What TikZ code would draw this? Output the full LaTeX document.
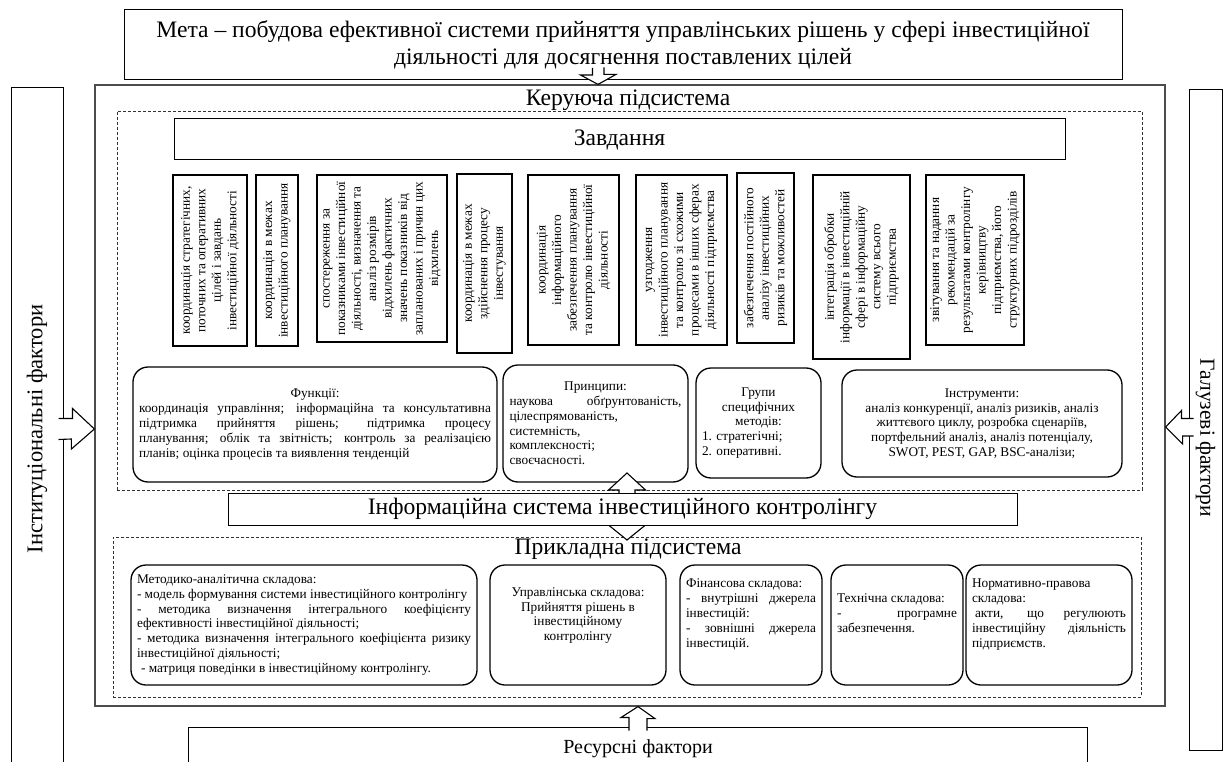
\documentclass[tikz,border=0pt]{standalone}
\usepackage{fontspec}
\setmainfont{Liberation Serif}
\usetikzlibrary{positioning,calc}
\tikzset{
	plain_box/.style = {draw=black, line width=1pt, fill=white, inner sep=2pt},
	title_txt/.style = {font=\fontsize{23.6}{27}\selectfont},
	zone/.style = {draw=black!80, line width=0.7pt, dash pattern=on 3pt off 2pt},
	task_box/.style = {plain_box, line width=1.3pt, rotate=90, align=center, inner sep=1pt, minimum width=170pt, font=\fontsize{13.3}{15.5}\selectfont},
	round_box/.style = {plain_box, line width=1.3pt, rounded corners=15pt, inner xsep=6pt, font=\fontsize{13.3}{14.8}\selectfont},
	factor_box/.style = {plain_box, font=\fontsize{22.5}{26}\selectfont},
	block_arr/.style = {draw=black, line width=1.1pt, fill=white, line join=miter}
}
\begin{document}
\begin{tikzpicture}[x=1pt, y=-1pt]
	\useasboundingbox (0,0) rectangle (1226,762);
	\node [plain_box, minimum width=998pt, minimum height=70pt, align=center, title_txt] (goal) at (623,45)
		{Мета – побудова ефективної системи прийняття управлінських рішень у сфері інвестиційної\\діяльності для досягнення поставлених цілей};
	\node [draw=black!70, line width=1.2pt, minimum width=1070pt, minimum height=621pt] (mainb) at (630,395.5) {};
	\node [title_txt] (ctrl) at (628,100) {Керуюча підсистема};
	\node [zone, minimum width=1025pt, minimum height=379pt] (ctrl_zone) at (629.5,300.5) {};
	\node [plain_box, minimum width=891pt, minimum height=41pt, title_txt] (tasks) at (619.5,139.5) {Завдання};
	% завдання
	\node [task_box, minimum height=74pt, minimum width=171pt] (t1) at (210,260.5) {координація стратегічних,\\поточних та оперативних\\цілей і завдань\\інвестиційної діяльності};
	\node [task_box, minimum height=42pt, minimum width=171pt] (t2) at (277,260.5) {координація в межах\\інвестиційного планування};
	\node [task_box, minimum height=130pt, minimum width=167pt] (t3) at (382,258.5) {спостереження за\\показниками інвестиційної\\діяльності, визначення та\\аналіз розмірів\\відхилень фактичних\\значень показників від\\запланованих і причин цих\\відхилень};
	\node [task_box, minimum height=55pt, minimum width=179pt] (t4) at (484.5,263.5) {координація в межах\\здійснення процесу\\інвестування};
	\node [task_box, minimum height=91pt] (t5) at (573.5,260) {координація\\інформаційного\\забезпечення планування\\та контролю інвестиційної\\діяльності};
	\node [task_box, minimum height=91pt] (t6) at (681.5,260) {узгодження\\інвестиційного планування\\та контролю зі схожими\\процесами в інших сферах\\діяльності підприємства};
	\node [task_box, minimum height=57pt] (t7) at (765.5,258) {забезпечення постійного\\аналізу інвестиційних\\ризиків та можливостей};
	\node [task_box, minimum height=97pt, minimum width=184pt] (t8) at (861.5,267) {інтеграція обробки\\інформації в інвестиційній\\сфері в інформаційну\\систему всього\\підприємства};
	\node [task_box, minimum height=98pt] (t9) at (975,260) {звітування та надання\\рекомендацій за\\результатами контролінгу\\керівництву\\підприємства, його\\структурних підрозділів};
	% функції, принципи, методи, інструменти
	\node [round_box, minimum width=364pt, minimum height=115pt, text width=352pt, align=justify] (func) at (315,424.5)
		{\hspace*{\fill}Функції:\hspace*{\fill}\newline
		координація управління; інформаційна та консультативна\linebreak
		підтримка прийняття рішень; підтримка процесу\linebreak
		планування; облік та звітність; контроль за реалізацією\linebreak
		планів; оцінка процесів та виявлення тенденцій};
	\node [round_box, minimum width=185pt, minimum height=117pt, text width=172pt, align=justify] (princ) at (595.5,423.5)
		{\hspace*{\fill}Принципи:\hspace*{\fill}\newline
		наукова обґрунтованість,\linebreak
		цілеспрямованість,\newline системність,\newline комплексності;\newline своєчасності.};
	\node [round_box, minimum width=123pt, minimum height=110pt, text width=113pt, align=justify] (groups) at (758.5,423)
		{\hspace*{\fill}Групи\hspace*{\fill}\newline
		\hspace*{\fill}специфічних\hspace*{\fill}\newline
		\hspace*{\fill}методів:\hspace*{\fill}\newline
		1. стратегічні;\newline 2. оперативні.};
	\node [round_box, minimum width=280pt, minimum height=107pt, align=center] (tools) at (982,423.5)
		{Інструменти:\\аналіз конкуренції, аналіз ризиків, аналіз\\життєвого циклу, розробка сценаріїв,\\портфельний аналіз, аналіз потенціалу,\\SWOT, PEST, GAP, BSC-аналізи;};
	% прикладна підсистема
	\node [zone, minimum width=1028pt, minimum height=160pt] (appl_zone) at (627,617) {};
	\draw [block_arr] (627,473) -- ++(18.5,17) -- ++(-10.5,0) -- ++(0,35) -- ++(10.5,0) -- ++(-18.5,15)
		-- ++(-18.5,-15) -- ++(10.5,0) -- ++(0,-35) -- ++(-10.5,0) -- cycle;
	\node [plain_box, minimum width=789pt, minimum height=32pt, title_txt] (info) at (622.5,509) {Інформаційна система інвестиційного контролінгу};
	\node [title_txt, inner sep=0pt] (appl) at (628,549) {Прикладна підсистема};
	\node [round_box, minimum width=346pt, minimum height=120pt, text width=334pt, align=justify] (method) at (304,625)
		{Методико-аналітична складова:\newline
		- модель формування системи інвестиційного контролінгу\newline
		- методика визначення інтегрального коефіцієнту\linebreak
		ефективності інвестиційної діяльності;\newline
		- методика визначення інтегрального коефіцієнта ризику\linebreak
		інвестиційної діяльності;\newline
		\hspace*{4pt}- матриця поведінки в інвестиційному контролінгу.};
	\node [round_box, minimum width=176pt, minimum height=120pt, align=center, text depth=22pt] (manag) at (578,625)
		{Управлінська складова:\\Прийняття рішень в\\інвестиційному\\контролінгу};
	\node [round_box, minimum width=142pt, minimum height=120pt, text width=130pt, align=justify, text depth=83pt] (fin) at (751,625)
		{Фінансова складова:\newline
		- внутрішні джерела\linebreak інвестицій:\newline
		- зовнішні джерела\linebreak інвестицій.};
	\node [round_box, minimum width=130pt, minimum height=120pt, text width=120pt, align=justify, text depth=53pt] (tech) at (897,625)
		{Технічна складова:\newline
		- програмне\linebreak забезпечення.};
	\node [round_box, minimum width=166pt, minimum height=120pt, text width=154pt, align=justify, text depth=83pt] (norm) at (1049,625)
		{Нормативно-правова\newline складова:\newline
		\hspace*{3pt}акти, що регулюють\linebreak
		інвестиційну діяльність\linebreak
		підприємств.};
	% фактори
	\node [factor_box, rotate=90, minimum width=682pt, minimum height=52pt] (inst) at (37,429) {Інституціональні фактори};
	\node [factor_box, rotate=-90, minimum width=660pt, minimum height=33pt, font=\fontsize{21.5}{25}\selectfont] (galuz) at (1205.5,420) {\hspace*{36pt}Галузеві фактори};
	\node [factor_box, minimum width=899pt, minimum height=43pt, font=\fontsize{20}{24}\selectfont] (res) at (638,748.5) {Ресурсні фактори};
	\draw [block_arr] (592.5,68) -- ++(0,7) -- ++(-12,0) -- (mainb.north -| 598,0) -- ++(18,-10) -- ++(-12,0) -- ++(0,-7);
	\draw [block_arr] ($(inst.south)+(-5,-10.5)$) -- ++(14,0) -- ++(0,-10) -- (mainb.west |- inst.south)
		-- ++(-23,20) -- ++(0,-10) -- ($(inst.south)+(-5,10.5)$);
	\draw [block_arr] ($(galuz.south)+(5,-1.5)$) -- ++(-12,0) -- ++(0,-8) -- (mainb.east |- 0,427)
		-- ++(17,17) -- ++(0,-8) -- ($(galuz.south)+(5,16)$);
	\draw [block_arr] ($(res.north)+(-9,4)$) -- ++(0,-13) -- ++(-8,0) -- (mainb.south -| res.north)
		-- ++(17,12) -- ++(-8,0) -- ($(res.north)+(9,4)$);
\end{tikzpicture}
\end{document}
